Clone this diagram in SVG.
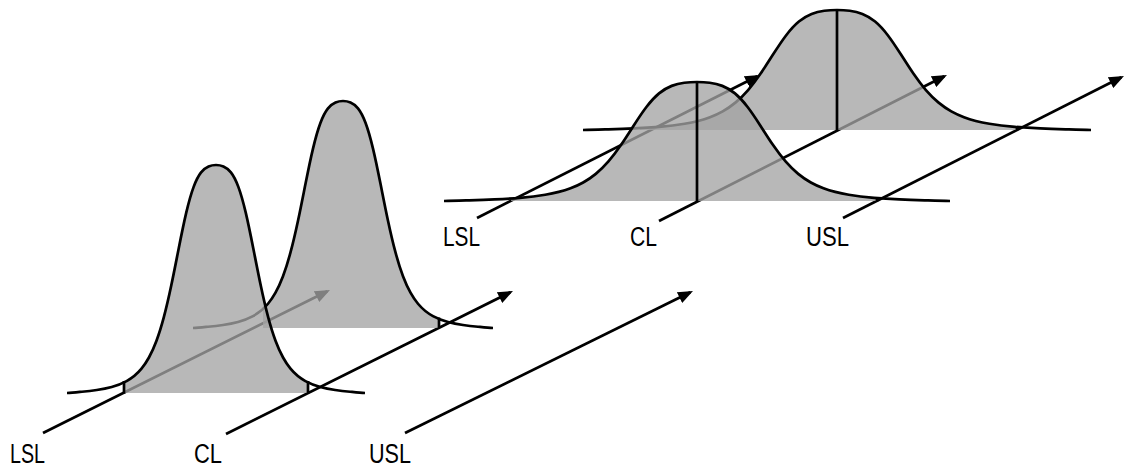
<svg xmlns="http://www.w3.org/2000/svg" width="1126" height="468" viewBox="0 0 1126 468">
<style>
.ax{stroke:#000;stroke-width:2.7;fill:none;marker-end:url(#ah)}
.crv{fill:none;stroke:#000;stroke-width:2.7}
.fil{fill:#a3a3a3;fill-opacity:0.776;stroke:none}
.tk{stroke:#000;stroke-width:2.7;fill:none}
.lbl{font-family:"Liberation Sans",Arial,sans-serif;font-size:27px;fill:#000}
</style>
<defs>
<path id="bell" vector-effect="non-scaling-stroke" d="M-100,0 C-96.67,-0.1 -93.33,-0.33 -90,-0.54 C-86.67,-0.75 -83.33,-1 -80,-1.33 C-76.67,-1.66 -73.33,-2.07 -70,-2.66 C-66.67,-3.25 -63.33,-4.03 -60,-5.23 C-56.67,-6.43 -53.33,-8.04 -50,-10.68 C-48.33,-12 -46.67,-13.58 -45,-15.56 C-43.33,-17.54 -41.67,-19.91 -40,-22.82 C-38.33,-25.73 -36.67,-29.19 -35,-33.27 C-33.33,-37.35 -31.67,-42.06 -30,-47.22 C-28.33,-52.38 -26.67,-57.99 -25,-63.5 C-23.33,-69.01 -21.67,-74.38 -20,-79 C-18.33,-83.63 -16.67,-87.48 -15,-90.41 C-13.33,-93.34 -11.67,-95.37 -10,-96.75 C-8.33,-98.13 -6.67,-98.9 -5,-99.36 C-3.33,-99.83 -1.67,-100 0,-100 C1.67,-100 3.33,-99.83 5,-99.36 C6.67,-98.9 8.33,-98.13 10,-96.75 C11.67,-95.37 13.33,-93.34 15,-90.41 C16.67,-87.48 18.33,-83.63 20,-79 C21.67,-74.38 23.33,-69.01 25,-63.5 C26.67,-57.99 28.33,-52.38 30,-47.22 C31.67,-42.06 33.33,-37.35 35,-33.27 C36.67,-29.19 38.33,-25.73 40,-22.82 C41.67,-19.91 43.33,-17.54 45,-15.56 C46.67,-13.58 48.33,-12 50,-10.68 C53.33,-8.04 56.67,-6.43 60,-5.23 C63.33,-4.03 66.67,-3.25 70,-2.66 C73.33,-2.07 76.67,-1.66 80,-1.33 C83.33,-1 86.67,-0.75 90,-0.54 C93.33,-0.33 96.67,-0.1 100,0"/>
<marker id="ah" markerUnits="userSpaceOnUse" viewBox="0 0 15 12" markerWidth="15" markerHeight="12" refX="12" refY="6" orient="auto"><path d="M0,0 L15,6 L0,12 z" fill="#000"/></marker>
<clipPath id="cLF"><rect x="124" y="0" width="184" height="468"/></clipPath>
<clipPath id="cLB"><rect x="263" y="0" width="176" height="468"/></clipPath>
<clipPath id="cRF"><rect x="511" y="0" width="366" height="468"/></clipPath>
<clipPath id="cRB"><rect x="640" y="0" width="377" height="468"/></clipPath>
</defs>

<g id="connectors">
<line class="ax" x1="43" y1="433" x2="327.3" y2="291.3"/>
<line class="ax" x1="226" y1="434" x2="510.3" y2="292.3"/>
<line class="ax" x1="405" y1="433" x2="690.3" y2="292.3"/>
<line class="ax" x1="477" y1="218" x2="757.3" y2="76.3"/>
<line class="ax" x1="659" y1="221" x2="944.3" y2="76.3"/>
<line class="ax" x1="843" y1="218" x2="1121.3" y2="77.3"/>
</g>

<g id="left-back">
<g clip-path="url(#cLB)"><use href="#bell" class="fil" transform="translate(343,328) scale(1.5,2.27)"/></g>
<use href="#bell" class="crv" transform="translate(343,328) scale(1.5,2.27)"/>
<line class="tk" x1="439" y1="328" x2="439" y2="317.5"/>
</g>

<g id="left-front">
<g clip-path="url(#cLF)"><use href="#bell" class="fil" transform="translate(216,393) scale(1.49,2.28)"/></g>
<use href="#bell" class="crv" transform="translate(216,393) scale(1.49,2.28)"/>
<line class="tk" x1="124" y1="393.5" x2="124" y2="381"/>
<line class="tk" x1="308" y1="393.5" x2="308" y2="381"/>
</g>

<g id="right-back">
<g clip-path="url(#cRB)"><use href="#bell" class="fil" transform="translate(837,130) scale(2.54,1.2)"/></g>
<use href="#bell" class="crv" transform="translate(837,130) scale(2.54,1.2)"/>
<line class="tk" x1="837" y1="130" x2="837" y2="10"/>
<line class="tk" x1="1017" y1="130.5" x2="1017" y2="126.5"/>
</g>

<g id="right-front">
<g clip-path="url(#cRF)"><use href="#bell" class="fil" transform="translate(697,201) scale(2.53,1.19)"/></g>
<use href="#bell" class="crv" transform="translate(697,201) scale(2.53,1.19)"/>
<line class="tk" x1="697" y1="201" x2="697" y2="82"/>
<line class="tk" x1="877" y1="201.5" x2="877" y2="197.5"/>
</g>

<g id="labels-left">
<text class="lbl" x="10" y="463" textLength="35" lengthAdjust="spacingAndGlyphs">LSL</text>
<text class="lbl" x="194" y="463" textLength="28" lengthAdjust="spacingAndGlyphs">CL</text>
<text class="lbl" x="369" y="463" textLength="42" lengthAdjust="spacingAndGlyphs">USL</text>
</g>
<g id="labels-right">
<text class="lbl" x="443" y="246" textLength="37" lengthAdjust="spacingAndGlyphs">LSL</text>
<text class="lbl" x="630" y="246" textLength="27" lengthAdjust="spacingAndGlyphs">CL</text>
<text class="lbl" x="806" y="246" textLength="43" lengthAdjust="spacingAndGlyphs">USL</text>
</g>
</svg>
